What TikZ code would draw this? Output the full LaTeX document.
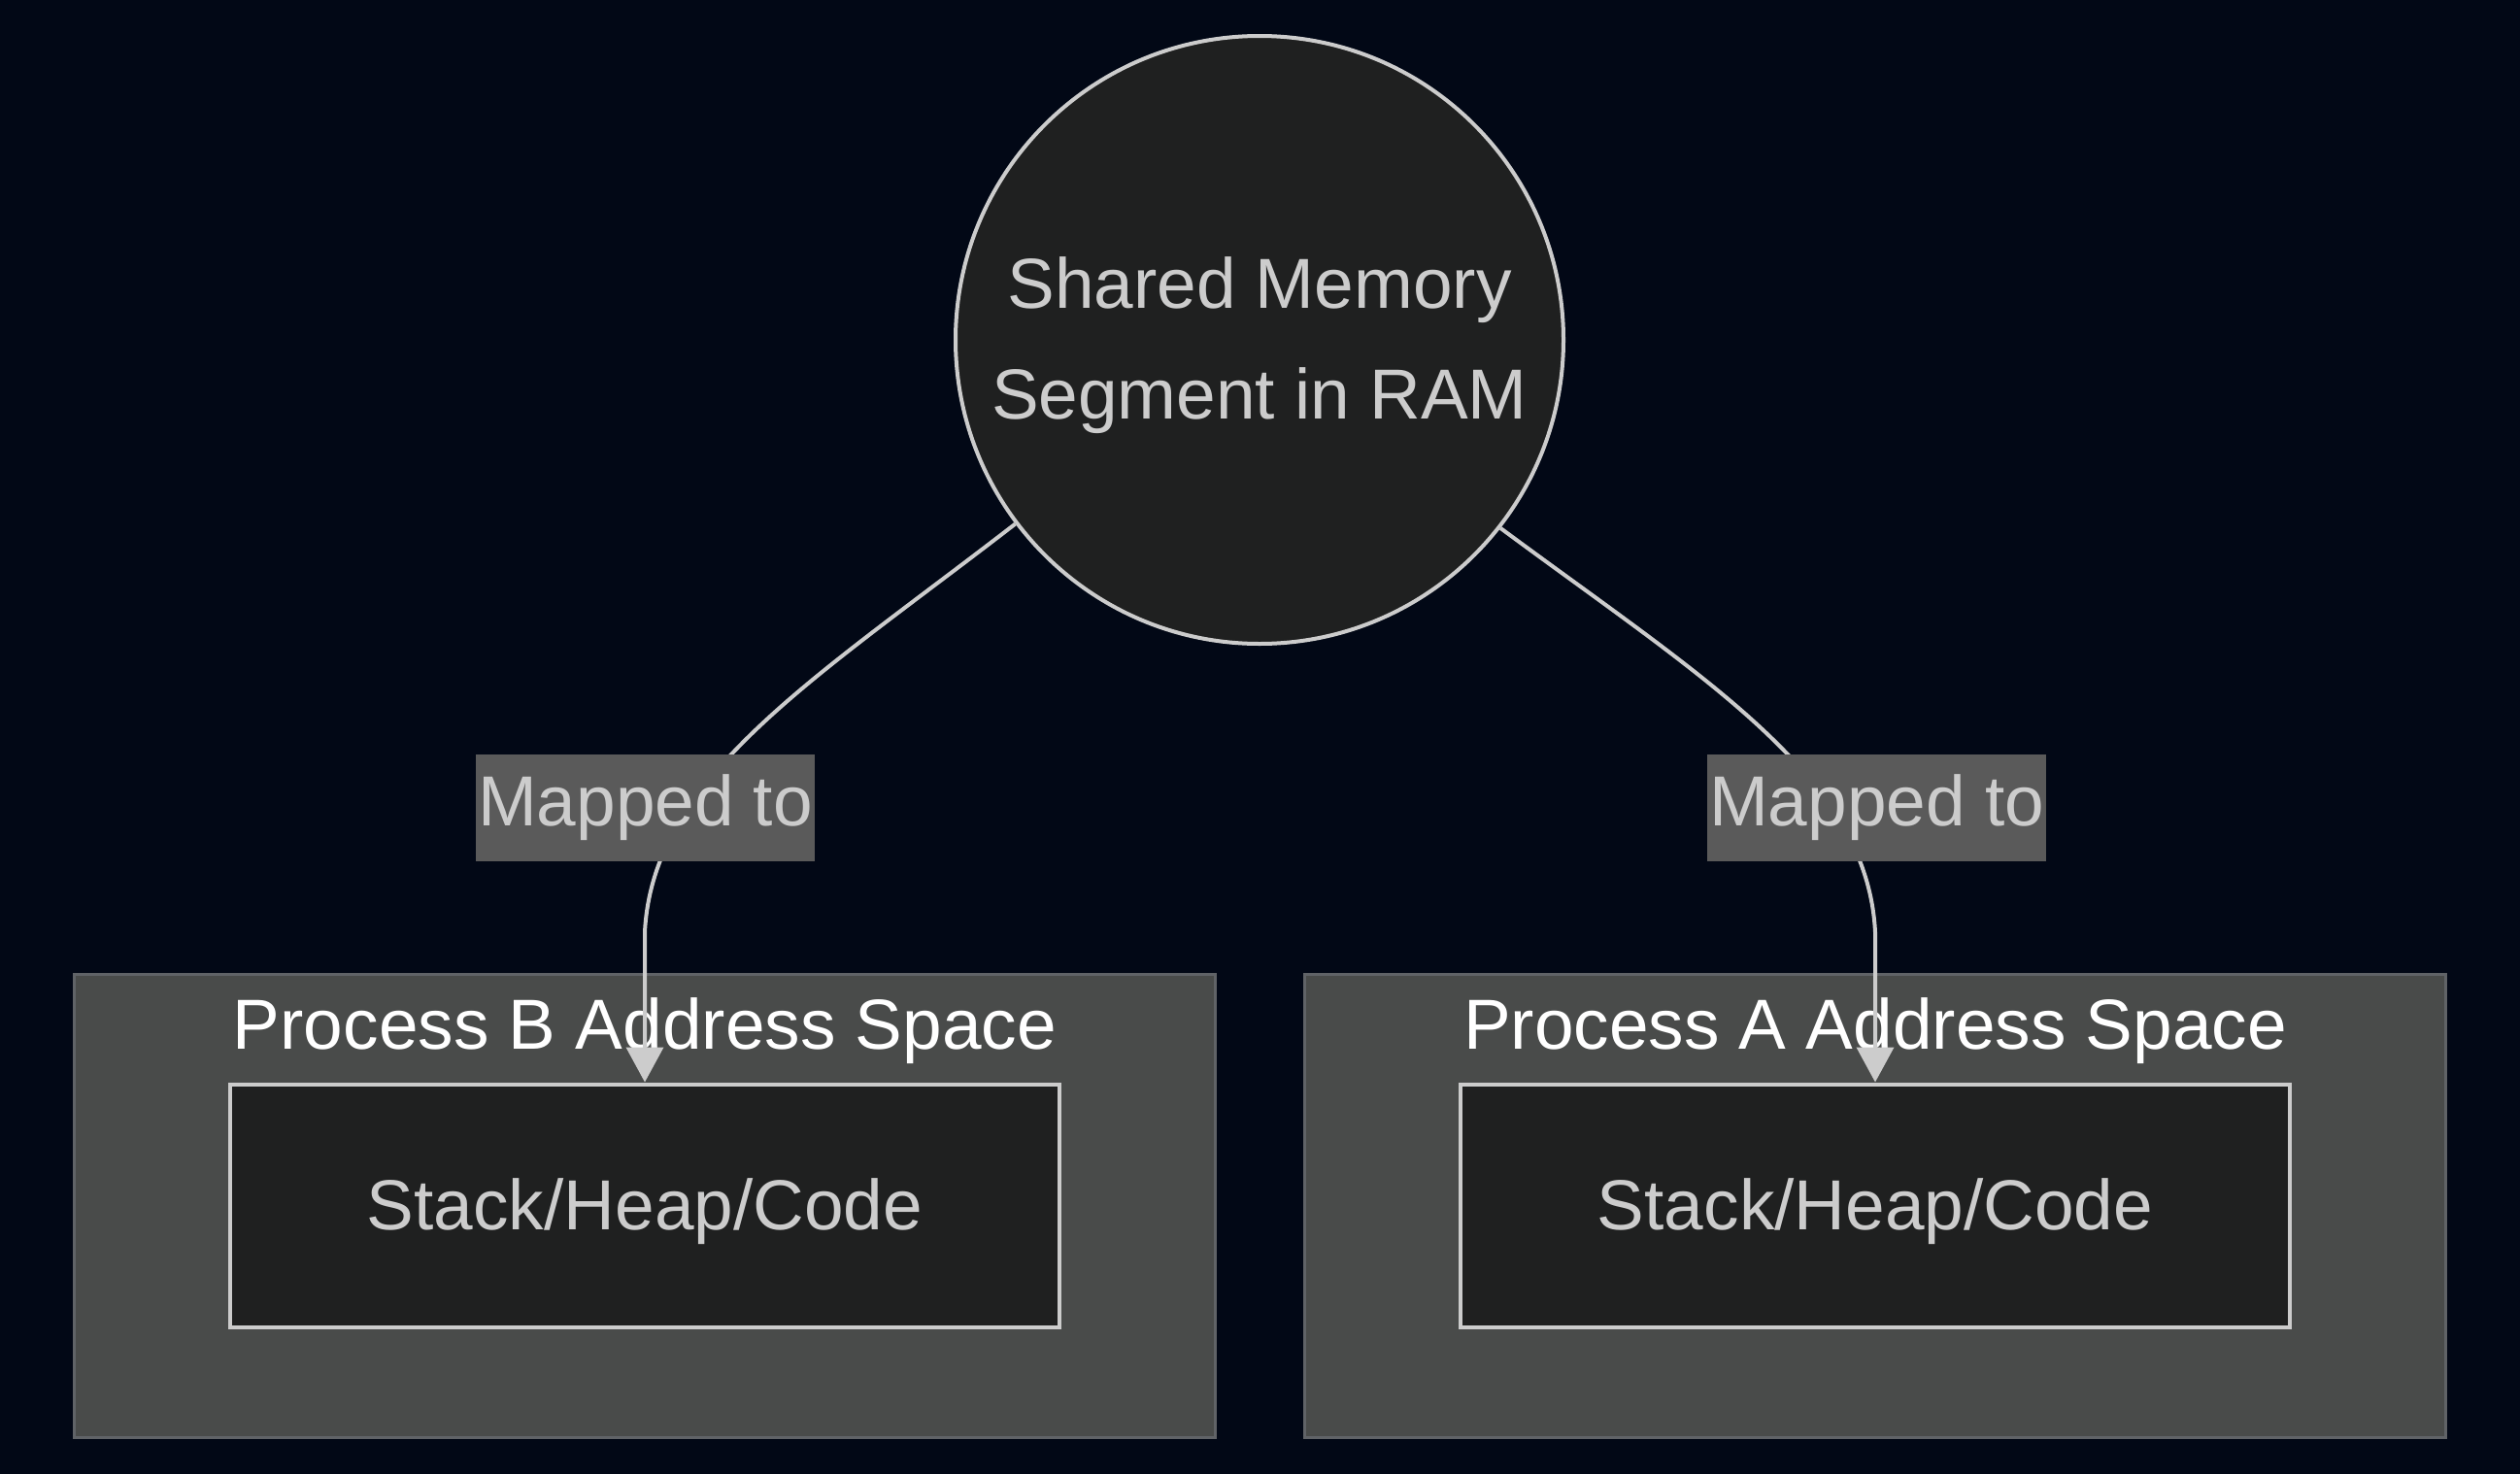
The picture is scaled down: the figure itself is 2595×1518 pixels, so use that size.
\documentclass[tikz,border=0pt]{standalone}
\usepackage{fontspec}
\setmainfont{Liberation Sans}
\usetikzlibrary{arrows.meta}
\definecolor{bgc}{RGB}{2,8,22}
\definecolor{nodefill}{RGB}{31,32,32}
\definecolor{nodeline}{RGB}{204,204,204}
\definecolor{clusterfill}{RGB}{73,75,74}
\definecolor{clusterline}{RGB}{96,99,103}
\definecolor{labelfill}{RGB}{90,90,90}
\tikzset{
  txt/.style={font=\fontsize{73}{114}\selectfont},
  cluster/.style={draw=clusterline, fill=clusterfill, line width=3pt, inner sep=0pt,
    minimum width=1175pt, minimum height=477pt},
  ctitle/.style={txt, text=white, anchor=base, inner sep=0pt},
  procbox/.style={txt, draw=nodeline, fill=nodefill, text=nodeline, line width=4pt,
    minimum width=854pt, minimum height=250pt, inner sep=0pt,
    text height=54pt, text depth=5pt},
  shmcircle/.style={circle, draw=nodeline, fill=nodefill, line width=4pt,
    minimum size=626pt, inner sep=0pt},
  shmtext/.style={txt, text=nodeline, align=center, inner sep=0pt},
  maplabel/.style={txt, fill=labelfill, text=nodeline, inner sep=0pt,
    minimum width=349pt, minimum height=110pt},
  conn/.style={draw=nodeline, line width=4pt, -{Triangle[length=36pt,width=38pt]}},
}
\begin{document}
\begin{tikzpicture}[x=1pt,y=-1pt]
  \fill[bgc] (0,0) rectangle (2595,1518);
  \useasboundingbox (0,0) rectangle (2595,1518);

  % clusters
  \node[cluster] (clB) at (663.5,1241.5) {};
  \node[cluster] (clA) at (1930.5,1241.5) {};
  \node[ctitle] (titleB) at (664,1080) {Process B Address Space};
  \node[ctitle] (titleA) at (1931,1080) {Process A Address Space};

  % inner nodes
  \node[procbox] (inB) at (664,1241.5) {Stack/Heap/Code};
  \node[procbox] (inA) at (1931,1241.5) {Stack/Heap/Code};

  % shared memory
  \node[shmcircle] (shm) at (1297,350) {};
  \node[shmtext] (shmlbl) at (1297,356) {Shared Memory\\Segment in RAM};

  % connectors
  \draw[conn] (shm.217.3) .. controls (838,700) and (672,800) .. (664,960) -- (inB.north);
  \draw[conn] (shm.322.7) .. controls (1756,700) and (1923,800) .. (1931,960) -- (inA.north);

  % edge labels
  \node[maplabel] (lblB) at (664.5,832) {Mapped to};
  \node[maplabel] (lblA) at (1932.5,832) {Mapped to};
\end{tikzpicture}
\end{document}
